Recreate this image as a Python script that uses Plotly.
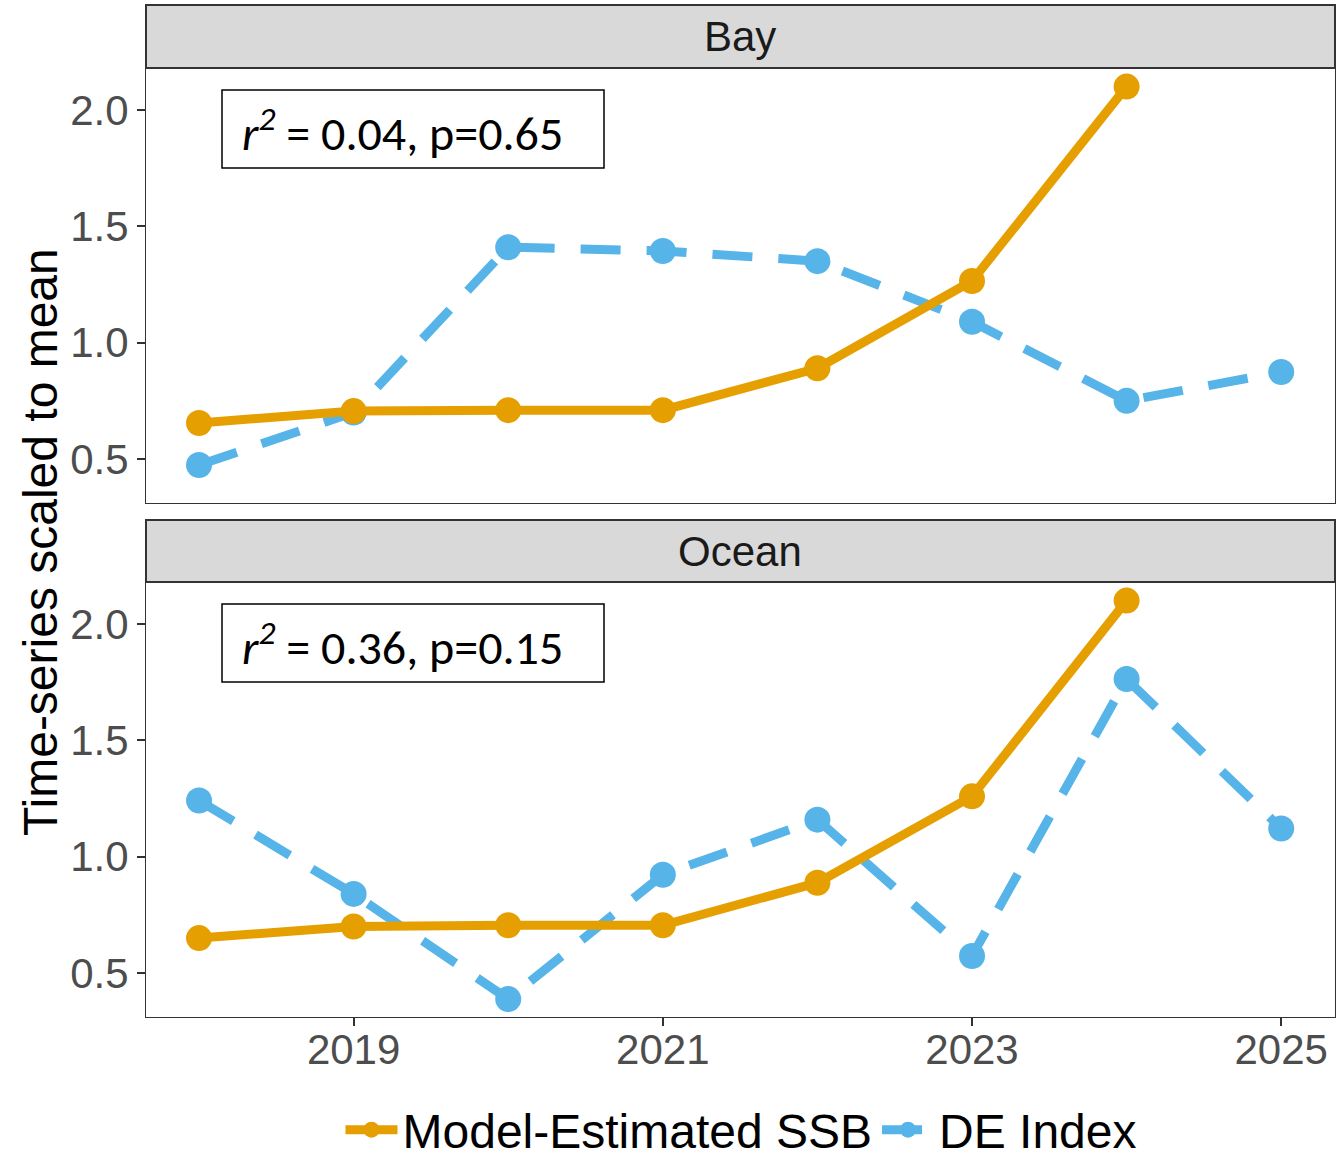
import plotly.graph_objects as go

years = [2018, 2019, 2020, 2021, 2022, 2023, 2024, 2025]
ssb_years = [2018, 2019, 2020, 2021, 2022, 2023, 2024]
bay_ssb = [0.655, 0.706, 0.71, 0.71, 0.89, 1.265, 2.10]
bay_de = [0.474, 0.70, 1.41, 1.394, 1.35, 1.09, 0.75, 0.874]
ocean_ssb = [0.65, 0.70, 0.705, 0.705, 0.888, 1.259, 2.10]
ocean_de = [1.241, 0.84, 0.388, 0.922, 1.159, 0.573, 1.763, 1.121]
panels = ["Bay", "Ocean"]
stats = ["<i>r<sup>2</sup></i> = 0.04, p=0.65", "<i>r<sup>2</sup></i> = 0.36, p=0.15"]
xticks = [2019, 2021, 2023, 2025]
yticks = [0.5, 1.0, 1.5, 2.0]

W, H = 1342, 1158
def py(p):
    return 1 - p / H
def px(p):
    return p / W

ORANGE = "#E69F00"
BLUE = "#56B4E9"

fig = go.Figure()
data = [(bay_ssb, bay_de), (ocean_ssb, ocean_de)]
for i, (ssb, de) in enumerate(data):
    xa = "x" if i == 0 else "x2"
    ya = "y" if i == 0 else "y2"
    fig.add_trace(go.Scatter(x=years, y=de, mode="lines+markers", name="DE Index",
                             line=dict(color=BLUE, width=9, dash="40px,26px"),
                             marker=dict(size=26, color=BLUE),
                             xaxis=xa, yaxis=ya, showlegend=(i == 0), legendrank=2))
    fig.add_trace(go.Scatter(x=ssb_years, y=ssb, mode="lines+markers", name="Model-Estimated SSB",
                             line=dict(color=ORANGE, width=9),
                             marker=dict(size=26, color=ORANGE),
                             xaxis=xa, yaxis=ya, showlegend=(i == 0), legendrank=1))

xdom = [px(146), px(1335)]
ydoms = [[py(503), py(68)], [py(1017), py(582)]]
xrange = [2017.657, 2025.348]
yrange = [0.311, 2.18]

axis_common = dict(showgrid=False, zeroline=False, showline=True, linecolor="#333333", linewidth=1,
                   mirror=True, ticklen=8, tickcolor="#333333", tickwidth=2,
                   tickfont=dict(family="Liberation Sans, Arial", size=42, color="#4D4D4D"))

fig.update_layout(
    width=W, height=H, margin=dict(l=0, r=0, t=0, b=0, autoexpand=False),
    plot_bgcolor="white", paper_bgcolor="white",
    xaxis=dict(domain=xdom, range=xrange, tickvals=xticks, showticklabels=False, ticks="", anchor="y", **axis_common),
    yaxis=dict(domain=ydoms[0], range=yrange, tickvals=yticks, ticktext=["0.5", "1.0", "1.5", "2.0"], ticks="outside", anchor="x", **axis_common),
    xaxis2=dict(domain=xdom, range=xrange, tickvals=xticks, ticks="outside", anchor="y2",
                ticklabelstandoff=-12, **axis_common),
    yaxis2=dict(domain=ydoms[1], range=yrange, tickvals=yticks, ticktext=["0.5", "1.0", "1.5", "2.0"], ticks="outside", anchor="x2", **axis_common),
    legend=dict(orientation="h", xref="container", yref="container", x=px(741), xanchor="center",
                y=py(1130), yanchor="middle",
                font=dict(family="Liberation Sans, Arial", size=48, color="black"),
                itemwidth=52, tracegroupgap=0),
    showlegend=True,
)

shapes = []
annotations = []
strips = [(5, 68), (520, 582)]
boxes = [(90, 168), (604, 682)]
for i, name in enumerate(panels):
    t, b = strips[i]
    shapes.append(dict(type="rect", xref="paper", yref="paper", x0=px(146), x1=px(1335), y0=py(b), y1=py(t),
                       fillcolor="#D9D9D9", line=dict(color="#333333", width=2), layer="above"))
    annotations.append(dict(text=name, xref="paper", yref="paper", x=px(740), y=py((t + b) / 2),
                            showarrow=False, xanchor="center", yanchor="middle",
                            font=dict(family="Liberation Sans, Arial", size=42, color="#1A1A1A")))
    bt, bb = boxes[i]
    shapes.append(dict(type="rect", xref="paper", yref="paper", x0=px(222), x1=px(604), y0=py(bb), y1=py(bt),
                       fillcolor="white", line=dict(color="black", width=1.5), layer="above"))
    annotations.append(dict(text=stats[i], xref="paper", yref="paper", x=px(240), y=py((bt + bb) / 2 + 1),
                            showarrow=False, xanchor="left", yanchor="middle",
                            font=dict(family="Carlito, Open Sans, Lato", size=48, color="black")))

annotations.append(dict(text="Time-series scaled to mean", xref="paper", yref="paper", x=px(40), y=py(542),
                        showarrow=False, textangle=-90, xanchor="center", yanchor="middle",
                        font=dict(family="Liberation Sans, Arial", size=48, color="black")))

fig.update_layout(shapes=shapes, annotations=annotations)
fig.write_html("out.html", config={"displayModeBar": False},
               post_script="document.body.style.margin='0';document.body.style.overflow='hidden';")
